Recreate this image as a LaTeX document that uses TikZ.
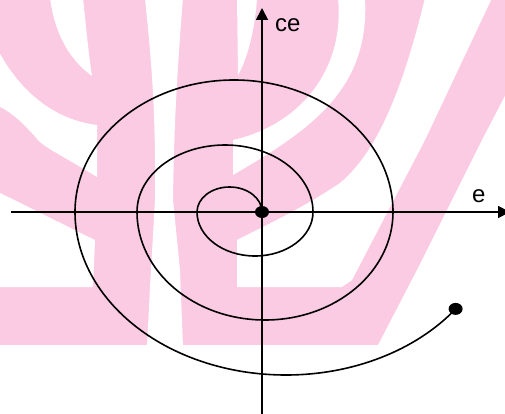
\documentclass[tikz,border=0pt]{standalone}
\usepackage{fontspec}
\setmainfont{Liberation Sans}
\usetikzlibrary{arrows.meta,shapes.geometric}
\definecolor{wmpink}{RGB}{251,203,227}
\begin{document}
\begin{tikzpicture}[x=1pt,y=-1pt,
  axis/.style={line width=1.8pt,-{Triangle[length=12pt,width=12pt]}},
  curve/.style={line width=1.6pt},
  dot/.style={ellipse,fill=black,minimum width=14pt,minimum height=12pt,inner sep=0pt},
  lbl/.style={font=\fontsize{24}{24}\selectfont,inner sep=0pt}]
\useasboundingbox (0,0) rectangle (505,414);
\clip (0,0) rectangle (505,414);
% watermark
\fill[wmpink] (-2,-2) rectangle (507,345);
\fill[white] (50,-2) .. controls (55,35) and (70,60) .. (92,76) .. controls (88,50) and (86,25) .. (83,-2) -- cycle;
\fill[white] (-2,50) .. controls (20,92) and (55,120) .. (97,125) -- (97,177) .. controls (70,160) and (45,148) .. (38,140) .. controls (25,125) and (12,112) .. (-2,106) -- cycle;
\fill[white] (-2,192) .. controls (35,210) and (70,228) .. (95,240) -- (93,287) -- (-2,287) -- cycle;
\fill[white] (145,-2) .. controls (150,50) and (156,100) .. (155,200) -- (150,287) -- (147,347) -- (183,347) -- (180,270) -- (173,200) .. controls (174,120) and (178,60) .. (183,-2) -- cycle;
\fill[white] (237,-2) -- (238,75) .. controls (247,60) and (255,30) .. (257,-2) -- cycle;
\fill[white] (338,-2) .. controls (345,70) and (300,125) .. (233,140) -- (233,175) .. controls (310,130) and (370,90) .. (365,-2) -- cycle;
\fill[white] (425,-2) .. controls (405,80) and (380,150) .. (340,183) .. controls (300,210) and (260,228) .. (237,240) -- (237,287) -- (342,287) -- (352,280) -- (425,140) -- (492,-2) -- cycle;
\fill[white] (507,92) -- (482,140) -- (417,270) -- (377,347) -- (507,347) -- cycle;
% axes
\coordinate (xl) at (11,212);
\coordinate (xr) at (510,212);
\coordinate (yb) at (262,416);
\coordinate (yt) at (262,8);
\draw[axis] (xl) -- (xr);
\draw[axis] (yb) -- (yt);
\node[lbl,anchor=base west] (ce) at (275,32) {ce};
\node[lbl,anchor=base west] (e) at (472,202) {e};
% spiral
\node[dot] (o) at (262,212) {};
\node[dot] (end) at (455.6,308.9) {};
\draw[curve] (o.center)
  arc[start angle=0,end angle=-180,x radius=32.5,y radius=25]
  arc[start angle=180,end angle=0,x radius=58,y radius=44]
  arc[start angle=0,end angle=-180,x radius=88,y radius=67]
  arc[start angle=180,end angle=0,x radius=128,y radius=108]
  arc[start angle=0,end angle=-180,x radius=159,y radius=132]
  arc[start angle=180,end angle=36.5,x radius=211,y radius=163];
\end{tikzpicture}
\end{document}
